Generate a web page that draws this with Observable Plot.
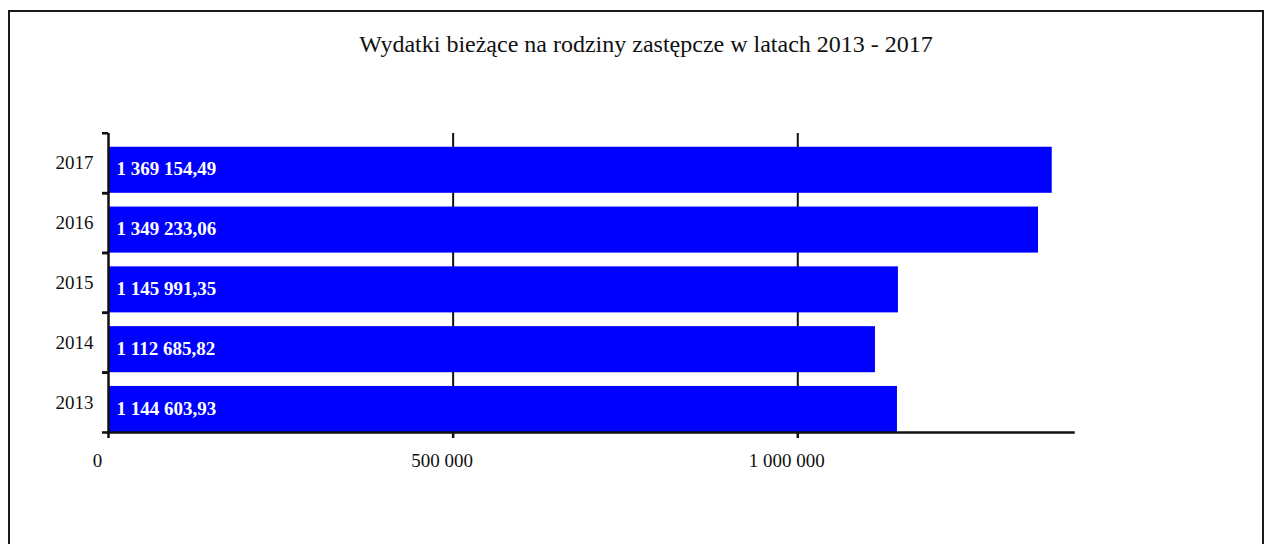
<!DOCTYPE html>
<html>
<head>
<meta charset="utf-8">
<script src="https://cdn.jsdelivr.net/npm/d3@7"></script>
<script src="https://cdn.jsdelivr.net/npm/@observablehq/plot@0.6"></script>
<style>
  html, body { margin: 0; padding: 0; background: #fff; width: 1272px; height: 544px; overflow: hidden; }
  #frame { position: absolute; left: 8px; top: 10px; width: 1256px; height: 600px; border: 2.5px solid #1a1a1a; box-sizing: border-box; }
  #title { position: absolute; top: 30px; left: 646px; transform: translateX(-50%); white-space: nowrap; line-height: 28px;
           font-family: "Liberation Serif", "DejaVu Serif", serif; font-size: 24px; color: #111; }
  #chart { position: absolute; left: 0; top: 0; }
</style>
</head>
<body>
<div id="frame"></div>
<div id="title">Wydatki bieżące na rodziny zastępcze w latach 2013 - 2017</div>
<div id="chart"></div>
<script>
const years = ["2017", "2016", "2015", "2014", "2013"];
const values = [1369154.49, 1349233.06, 1145991.35, 1112685.82, 1144603.93];
const xTicks = [0, 500000, 1000000];
const gridTicks = [500000, 1000000];

const data = years.map((y, i) => ({year: y, value: values[i]}));
const loc = d3.formatLocale({decimal: ",", thousands: " ", grouping: [3], currency: ["", ""]});
const fmtVal = loc.format(",.2f");
const fmtAxis = loc.format(",.0f");
const font = "Liberation Serif, DejaVu Serif, serif";

const chart = Plot.plot({
  width: 1272,
  height: 544,
  marginLeft: 108,
  marginRight: 199,
  marginTop: 133,
  marginBottom: 112,
  style: {fontFamily: font, fontSize: "19px", color: "#111", background: "transparent"},
  x: {domain: [0, 1400000]},
  y: {domain: years, paddingInner: 0.23, paddingOuter: 0.115, align: 1, round: false},
  marks: [
    Plot.gridX({ticks: gridTicks, stroke: "#111", strokeOpacity: 1, strokeWidth: 2}),
    Plot.barX(data, {y: "year", x: "value", fill: "#0000FF"}),
    Plot.text(data, {y: "year", x: 0, text: d => fmtVal(d.value), textAnchor: "start", dx: 8, dy: -1,
      fill: "white", fontWeight: "bold", fontSize: 19, fontFamily: font}),
    Plot.ruleX([0], {stroke: "#111", strokeWidth: 2.5}),
    Plot.frame({anchor: "bottom", stroke: "#111", strokeWidth: 2.5}),
    Plot.axisY({tickSize: 0, tickPadding: 15, dy: -7, label: null, fill: "#111"}),
    Plot.axisY({tickSize: 6, tickFormat: () => "", dy: 23, label: null, stroke: "#111", strokeWidth: 2.5}),
    Plot.axisY({tickSize: 6, tickFormat: () => "", dy: -37, label: null, stroke: "#111", strokeWidth: 2.5}),
    Plot.axisX({ticks: xTicks, tickSize: 6, tickFormat: () => "", label: null, stroke: "#111", strokeWidth: 2.5}),
    Plot.axisX({ticks: xTicks, tickSize: 0, tickPadding: 21, dx: -11, tickFormat: fmtAxis, label: null, fill: "#111"})
  ]
});
document.getElementById("chart").appendChild(chart);
</script>
</body>
</html>
